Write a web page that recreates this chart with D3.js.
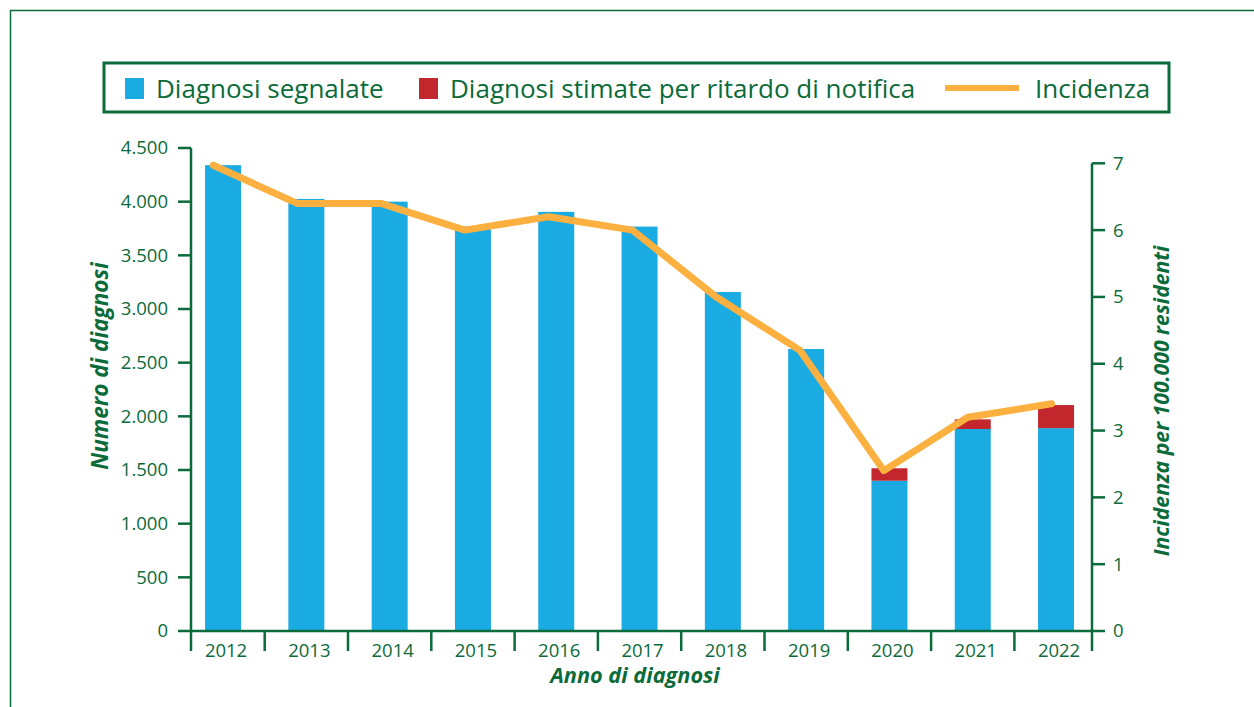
<html>
<head>
    <title>Diagnosi e incidenza</title>
    <script src="https://d3js.org/d3.v7.min.js"></script>
    <style>
        body { margin: 0; background: #fff; }
        text { font-family: 'Open Sans', sans-serif; fill: #0b6b3a; }
    </style>
</head>
<body>
<script>
    // data
    var years = ['2012', '2013', '2014', '2015', '2016', '2017', '2018', '2019', '2020', '2021', '2022'];
    var segnalate = [4340, 4025, 4000, 3770, 3905, 3768, 3158, 2627, 1400, 1882, 1890];
    var stimate = [0, 0, 0, 0, 0, 0, 0, 0, 116, 90, 215];
    var incidenza = [6.97, 6.4, 6.4, 6.0, 6.2, 6.0, 5.0, 4.2, 2.4, 3.2, 3.4];
    var leftTicks = [0, 500, 1000, 1500, 2000, 2500, 3000, 3500, 4000, 4500];
    var rightTicks = [0, 1, 2, 3, 4, 5, 6, 7];

    var width = 1254, height = 707;
    var green = '#0b6b3a', blue = '#1aabe2', red = '#c1272d', orange = '#fbb040';

    var svg = d3.select('body').append('svg')
        .attr('width', width)
        .attr('height', height);

    // outer frame
    svg.append('path')
        .attr('d', 'M10.5,' + height + 'V10.5H' + width)
        .attr('fill', 'none')
        .attr('stroke', green)
        .attr('stroke-width', 1.5);

    var x = d3.scaleBand().domain(years).range([181.4, 1097.7]);
    var xLine = d3.scalePoint().domain(years).range([213.3, 1051.5]);
    var y = d3.scaleLinear().domain([0, 4500]).range([631, 148]);
    var y2 = d3.scaleLinear().domain([0, 7]).range([631, 163.3]);
    var barW = 36;
    var axisL = 191, axisR = 1092;

    // bars
    var bars = svg.append('g');
    bars.selectAll('rect.seg')
        .data(years)
        .enter().append('rect')
        .attr('class', 'seg')
        .attr('x', d => x(d) + (x.bandwidth() - barW) / 2)
        .attr('width', barW)
        .attr('y', (d, i) => y(segnalate[i]))
        .attr('height', (d, i) => y(0) - y(segnalate[i]))
        .attr('fill', blue);
    bars.selectAll('rect.sti')
        .data(years)
        .enter().append('rect')
        .attr('class', 'sti')
        .attr('x', d => x(d) + (x.bandwidth() - barW) / 2)
        .attr('width', barW)
        .attr('y', (d, i) => y(segnalate[i] + stimate[i]))
        .attr('height', (d, i) => y(segnalate[i]) - y(segnalate[i] + stimate[i]))
        .attr('fill', red);

    // x axis line and separators
    var ax = svg.append('g').attr('stroke', green).attr('stroke-width', 2.5);
    ax.append('line').attr('x1', axisL).attr('x2', axisR).attr('y1', 631).attr('y2', 631);
    ax.selectAll('line.sep')
        .data(years.slice(1))
        .enter().append('line')
        .attr('class', 'sep')
        .attr('x1', d => x(d)).attr('x2', d => x(d))
        .attr('y1', 631).attr('y2', 651);

    // left axis
    ax.append('line').attr('x1', axisL).attr('x2', axisL).attr('y1', y(4500)).attr('y2', 651);
    ax.selectAll('line.lt')
        .data(leftTicks)
        .enter().append('line')
        .attr('class', 'lt')
        .attr('x1', axisL - 13).attr('x2', axisL)
        .attr('y1', d => y(d)).attr('y2', d => y(d));

    // right axis
    ax.append('line').attr('x1', axisR).attr('x2', axisR).attr('y1', y2(7)).attr('y2', 651);
    ax.selectAll('line.rt')
        .data(rightTicks)
        .enter().append('line')
        .attr('class', 'rt')
        .attr('x1', axisR).attr('x2', axisR + 13)
        .attr('y1', d => y2(d)).attr('y2', d => y2(d));

    var fmt = d3.formatLocale({ decimal: ',', thousands: '.', grouping: [3], currency: ['', '€'] }).format(',');

    svg.append('g').selectAll('text')
        .data(leftTicks)
        .enter().append('text')
        .attr('x', 168).attr('y', d => y(d))
        .attr('dy', '0.35em')
        .attr('text-anchor', 'end')
        .attr('font-size', 18.5)
        .text(d => fmt(d));

    svg.append('g').selectAll('text')
        .data(rightTicks)
        .enter().append('text')
        .attr('x', 1113).attr('y', d => y2(d))
        .attr('dy', '0.35em')
        .attr('font-size', 18.5)
        .text(d => d);

    svg.append('g').selectAll('text')
        .data(years)
        .enter().append('text')
        .attr('x', d => x(d) + x.bandwidth() / 2 + 3)
        .attr('y', 657)
        .attr('text-anchor', 'middle')
        .attr('font-size', 18.5)
        .text(d => d);

    // axis titles
    svg.append('text')
        .attr('transform', 'translate(108,366) rotate(-90)')
        .attr('text-anchor', 'middle')
        .attr('font-size', 22.5).attr('font-weight', 'bold').attr('font-style', 'italic')
        .text('Numero di diagnosi');
    svg.append('text')
        .attr('transform', 'translate(1169,401) rotate(-90)')
        .attr('text-anchor', 'middle')
        .attr('font-size', 21.2).attr('font-weight', 'bold').attr('font-style', 'italic')
        .text('Incidenza per 100.000 residenti');
    svg.append('text')
        .attr('x', 635).attr('y', 683)
        .attr('text-anchor', 'middle')
        .attr('font-size', 21.7).attr('font-weight', 'bold').attr('font-style', 'italic')
        .text('Anno di diagnosi');

    // incidence line
    var line = d3.line()
        .x((d, i) => xLine(years[i]))
        .y(d => y2(d));
    svg.append('path')
        .datum(incidenza)
        .attr('d', line)
        .attr('fill', 'none')
        .attr('stroke', orange)
        .attr('stroke-width', 7)
        .attr('stroke-linejoin', 'round')
        .attr('stroke-linecap', 'round');

    // legend
    var lg = svg.append('g');
    lg.append('rect')
        .attr('x', 104).attr('y', 63)
        .attr('width', 1065).attr('height', 49)
        .attr('fill', '#fff')
        .attr('stroke', green)
        .attr('stroke-width', 3);
    lg.append('rect').attr('x', 125).attr('y', 78).attr('width', 19).attr('height', 21).attr('fill', blue);
    lg.append('text').attr('x', 156).attr('y', 98).attr('font-size', 26).text('Diagnosi segnalate');
    lg.append('rect').attr('x', 419).attr('y', 78).attr('width', 19).attr('height', 21).attr('fill', red);
    lg.append('text').attr('x', 450).attr('y', 98).attr('font-size', 26).text('Diagnosi stimate per ritardo di notifica');
    lg.append('line').attr('x1', 945).attr('x2', 1019).attr('y1', 88).attr('y2', 88)
        .attr('stroke', orange).attr('stroke-width', 6);
    lg.append('text').attr('x', 1035).attr('y', 98).attr('font-size', 26).text('Incidenza');
</script>
</body>
</html>
